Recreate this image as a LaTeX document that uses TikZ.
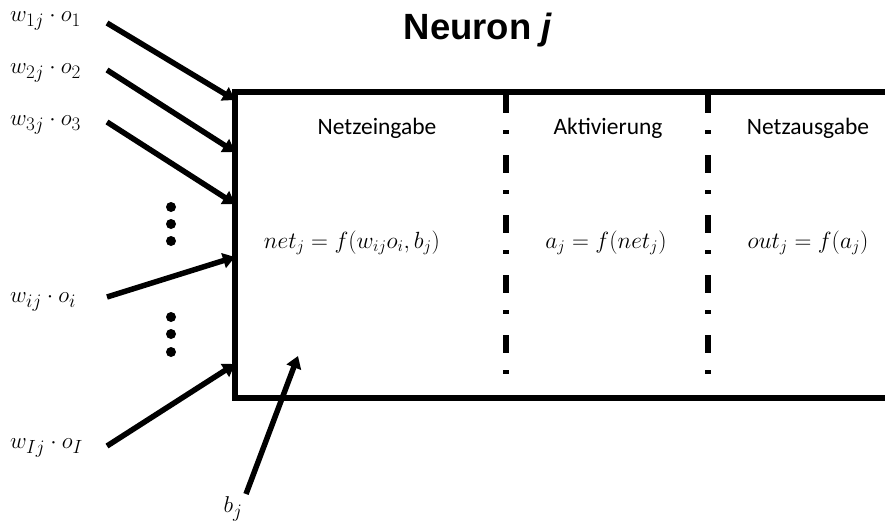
\documentclass[tikz,border=0pt]{standalone}
\usepackage{graphicx}
\usepackage{fontspec}
\setmainfont{Carlito}
\newfontfamily\titlefont{Liberation Sans}
\usetikzlibrary{arrows.meta}
\newcommand{\bigmath}[1]{\scalebox{1.13}{#1}}
\newcommand{\labmath}[1]{\scalebox{0.92}{#1}}
\begin{document}
\begin{tikzpicture}[x=1pt,y=-1pt,
  thick line/.style={line width=5.5pt},
  inarrow/.style={line width=5.5pt,-{Triangle[length=12pt,width=15pt]}},
  sep/.style={line width=5.5pt,dash pattern=on 18pt off 17pt on 4pt off 21pt},
  lbl/.style={font=\fontsize{23.5}{28}\selectfont},
  inl/.style={font=\fontsize{24.88}{30}\selectfont,inner sep=0pt},
  frm/.style={font=\fontsize{20.74}{25}\selectfont,inner sep=0pt},
  dot/.style={circle,fill=black,inner sep=0pt,minimum size=10pt}]
\useasboundingbox (0,0) rectangle (885,525);
% box (open at right)
\coordinate (tr) at (886,92);
\coordinate (tl) at (235,92);
\coordinate (bl) at (235,398);
\coordinate (br) at (886,398);
\draw[thick line] (tr) -- (tl) -- (bl) -- (br);
% separators
\coordinate (s1t) at (506,95); \coordinate (s1b) at (506,396);
\coordinate (s2t) at (708,95); \coordinate (s2b) at (708,396);
\draw[sep] (s1t) -- (s1b);
\draw[sep] (s2t) -- (s2b);
% title
\node[font=\titlefont\fontsize{36.5}{42}\selectfont\bfseries] (title) at (478,30) {Neuron \textit{j}};
% section labels
\node[lbl] (h1) at (377,128) {Netzeingabe};
\node[lbl] (h2) at (608,128) {Aktivierung};
\node[lbl] (h3) at (808,128) {Netzausgabe};
% formulas
\node[frm] (f1) at (352,243) {\bigmath{$net_j = f(w_{ij}o_i, b_j)$}};
\node[frm] (f2) at (606,243) {\bigmath{$a_j = f\bigl(net_j\bigr)$}};
\node[frm] (f3) at (808,243) {\bigmath{$out_j = f\bigl(a_j\bigr)$}};
% input labels
\node[inl,anchor=west] (i1) at (10,21) {\labmath{$w_{1j}\cdot o_1$}};
\node[inl,anchor=west] (i2) at (10,73) {\labmath{$w_{2j}\cdot o_2$}};
\node[inl,anchor=west] (i3) at (10,125) {\labmath{$w_{3j}\cdot o_3$}};
\node[inl,anchor=west] (ii) at (10,302) {\labmath{$w_{ij}\cdot o_i$}};
\node[inl,anchor=west] (iI) at (10,448) {\labmath{$w_{Ij}\cdot o_I$}};
\node[inl] (b) at (233,509) {\labmath{$b_j$}};
% dots
\node[dot] (d1) at (171,207) {};
\node[dot] (d2) at (171,224) {};
\node[dot] (d3) at (171,241) {};
\node[dot] (d4) at (171,317) {};
\node[dot] (d5) at (171,334) {};
\node[dot] (d6) at (171,352) {};
% arrow endpoints
\coordinate (a1s) at (107,23);  \coordinate (a1e) at (235,100);
\coordinate (a2s) at (107,70);  \coordinate (a2e) at (235,152);
\coordinate (a3s) at (107,122); \coordinate (a3e) at (235,204);
\coordinate (a4s) at (107,297); \coordinate (a4e) at (235,257);
\coordinate (a5s) at (107,446); \coordinate (a5e) at (235,364);
\coordinate (a6s) at (246,494); \coordinate (a6e) at (298,356);
\draw[inarrow] (a1s) -- (a1e);
\draw[inarrow] (a2s) -- (a2e);
\draw[inarrow] (a3s) -- (a3e);
\draw[inarrow] (a4s) -- (a4e);
\draw[inarrow] (a5s) -- (a5e);
\draw[inarrow] (a6s) -- (a6e);
\end{tikzpicture}
\end{document}
